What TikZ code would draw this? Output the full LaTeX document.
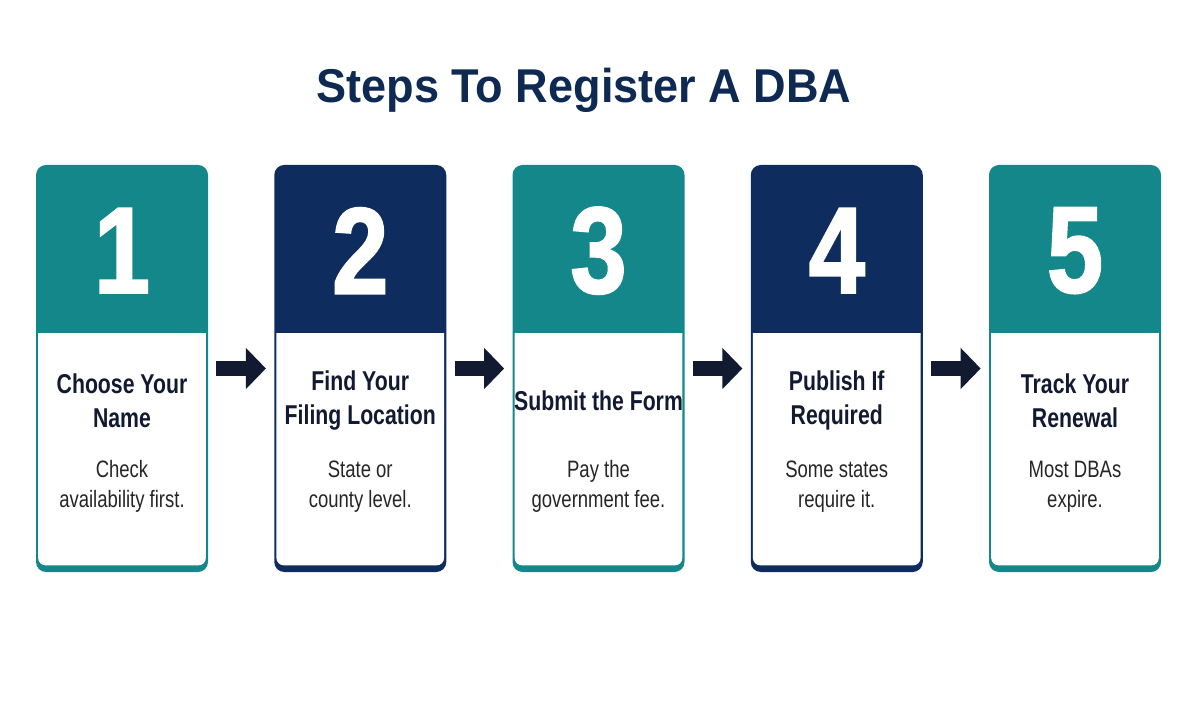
\documentclass[tikz,border=0pt]{standalone}
\usepackage{fontspec}
\setmainfont{Liberation Sans}
\newfontfamily\condfont[FakeStretch=0.78]{Liberation Sans}
\newfontfamily\numfont[FakeStretch=0.82,FakeBold=1.6]{Liberation Sans}
\newfontfamily\headfont[FakeStretch=0.95]{Liberation Sans}
\usepackage{xcolor}
\usetikzlibrary{positioning,arrows.meta,calc}
\definecolor{dbateal}{HTML}{13878A}
\definecolor{dbanavy}{HTML}{0E2D5E}
\definecolor{dbaink}{HTML}{111A30}
\definecolor{dbatitle}{HTML}{0F2A52}

\begin{document}
\begin{tikzpicture}[card/.style={draw=none,rounded corners=0.2cm,minimum width=3.44cm,minimum height=8.14cm,inner sep=0pt},
  numtxt/.style={text=white,font=\numfont\bfseries\fontsize{70}{70}\selectfont},
  headtxt/.style={align=center,text=dbaink,font=\condfont\bfseries\fontsize{15.5}{19.3}\selectfont},
  desctxt/.style={align=center,text=black!85,font=\condfont\fontsize{13.5}{17}\selectfont},
  nextarrow/.style={draw=dbaink,line width=0.3cm,-{Triangle[width=0.8cm,length=0.4cm]},shorten <=0.16cm,shorten >=0.16cm}]
\useasboundingbox (0,0) rectangle (24,14);
\node[font=\headfont\bfseries\fontsize{27}{30}\selectfont,text=dbatitle] (title) at (11.68,12.2) {Steps To Register A DBA};
\foreach \col/\num/\head/\desc [count=\i] in {dbateal/1/{Choose Your\\Name}/{Check\\availability first.},
  dbanavy/2/{Find Your\\Filing Location}/{State or\\county level.},
  dbateal/3/{Submit the Form}/{Pay the\\government fee.},
  dbanavy/4/{Publish If\\Required}/{Some states\\require it.},
  dbateal/5/{Track Your\\Renewal}/{Most DBAs\\expire.}}{
  \node[card,fill=\col] (c\i) at ({2.44+4.765*(\i-1)},6.63) {};
  \fill[white,rounded corners=0.15cm] ($(c\i.south west)+(0.05,0.14)$) rectangle ($(c\i.north east)+(-0.05,-3.0)$);
  \fill[\col] ($(c\i.north west)+(0.04,-2.9)$) rectangle ($(c\i.north east)+(-0.04,-3.36)$);
  \node[numtxt] (n\i) at ($(c\i.north)+(0,-1.72)$) {\num};
  \node[headtxt] (h\i) at ($(c\i.north)+(0,-4.72)$) {\head};
  \node[desctxt] (d\i) at ($(c\i.north)+(0,-6.44)$) {\desc};
}
\foreach \i [evaluate=\i as \j using int(\i+1)] in {1,...,4}
  \draw[nextarrow] (c\i) -- (c\j);
\end{tikzpicture}
\end{document}
